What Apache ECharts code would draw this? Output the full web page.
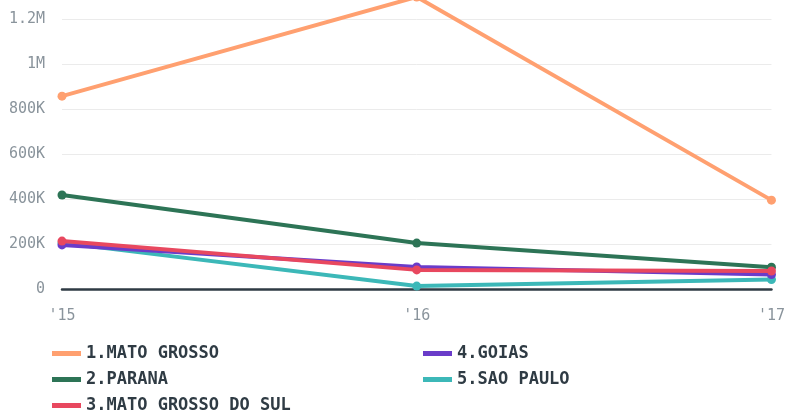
<!DOCTYPE html>
<html>
<head>
<meta charset="utf-8">
<script src="https://cdn.jsdelivr.net/npm/echarts@6/dist/echarts.min.js"></script>
<style>
html,body{margin:0;padding:0;background:#fff;}
#chart{width:788px;height:414px;}
</style>
</head>
<body>
<div id="chart"></div>
<script>
// data
var years = ["'15", "'16", "'17"];
var names = ['1.MATO GROSSO', '2.PARANA', '3.MATO GROSSO DO SUL', '4.GOIAS', '5.SAO PAULO'];
var matoGrosso = [857000, 1298000, 395000];
var parana = [418000, 204000, 97000];
var matoGrossoSul = [213000, 85000, 80000];
var goias = [196000, 98000, 64000];
var saoPaulo = [205000, 13000, 42000];
var yTicks = [0, 200000, 400000, 600000, 800000, 1000000, 1200000];

var colors = ['#ffa070', '#2d7456', '#e8485f', '#6a3cc9', '#3cb8b8'];
var allData = [matoGrosso, parana, matoGrossoSul, goias, saoPaulo];
var font = 'DejaVu Sans Mono';

var chartDom = document.getElementById('chart');
var myChart = echarts.init(chartDom);

function fmt(v) {//200000 -> 200K, 1200000 -> 1.2M
    if (v >= 1000000) return (v / 1000000) + 'M';
    if (v >= 1000) return (v / 1000) + 'K';
    return '' + v;
}

var series = [];
// draw order: later ones on top
var order = [0, 1, 4, 3, 2];
order.forEach(function (i) {
    series.push({
        name: names[i],
        type: 'line',
        data: allData[i],
        clip: false,
        symbol: 'circle',
        symbolSize: 9,
        z: 3 + order.indexOf(i),
        lineStyle: {width: 4, color: colors[i]},
        itemStyle: {color: colors[i]}
    });
});

var legendText = {fontFamily: font, fontWeight: 'bold', fontSize: 17, color: '#2f3b44'};

var option = {
    animation: false,
    grid: {left: 62, right: 15, top: 19, bottom: 125},
    xAxis: {
        type: 'category',
        data: years,
        boundaryGap: false,
        axisLine: {show: true, lineStyle: {color: '#2f3b44', width: 2.5}},
        axisTick: {show: false},
        axisLabel: {fontFamily: font, fontSize: 15, color: '#8a949c', margin: 20,
            showMinLabel: true, showMaxLabel: true},
        splitLine: {show: false}
    },
    yAxis: {
        type: 'value',
        min: yTicks[0],
        max: yTicks[yTicks.length - 1],
        interval: yTicks[1] - yTicks[0],
        axisLine: {show: false},
        axisTick: {show: false},
        axisLabel: {fontFamily: font, fontSize: 15, color: '#8a949c', margin: 17, formatter: fmt},
        splitLine: {lineStyle: {color: '#ebebeb', width: 1}}
    },
    legend: [{
        orient: 'vertical',
        left: 52,
        top: 345,
        height: 120,
        padding: 0,
        itemWidth: 29,
        itemHeight: 5,
        itemGap: 9,
        icon: 'rect',
        textStyle: legendText,
        data: names.slice(0, 3)
    }, {
        orient: 'vertical',
        left: 423,
        top: 345,
        height: 120,
        padding: 0,
        itemWidth: 29,
        itemHeight: 5,
        itemGap: 9,
        icon: 'rect',
        textStyle: legendText,
        data: names.slice(3)
    }],
    series: series
};

myChart.setOption(option);
</script>
</body>
</html>
